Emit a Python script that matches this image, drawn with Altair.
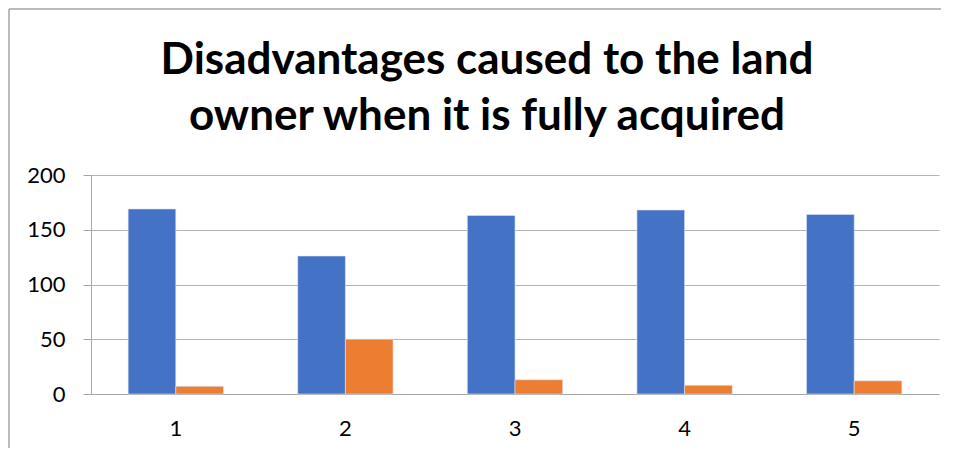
import altair as alt
import pandas as pd

categories = ["1", "2", "3", "4", "5"]
series_names = ["Series1", "Series2"]
blue_values = [169, 126, 163, 168, 164]
orange_values = [7, 50, 13, 8, 12]
y_ticks = [0, 50, 100, 150, 200]
title_lines = ["Disadvantages caused to the land", "owner when it is fully acquired"]

rows = []
for c, b, o in zip(categories, blue_values, orange_values):
    rows.append({"cat": c, "series": series_names[0], "value": b})
    rows.append({"cat": c, "series": series_names[1], "value": o})
df = pd.DataFrame(rows)

FONT = "Lato"

bars = alt.Chart(df).mark_bar(stroke="#dce6f5", strokeWidth=0.6).encode(
    x=alt.X("cat:N", sort=categories,
            scale=alt.Scale(paddingInner=0.438, paddingOuter=0.219),
            axis=alt.Axis(title=None, labelAngle=0, ticks=False, labelPadding=24,
                          labelFontSize=22, labelFont=FONT, labelColor="#000000",
                          domainColor="#a6a6a6", domainWidth=1.2, grid=False)),
    xOffset=alt.XOffset("series:N", sort=series_names,
                        scale=alt.Scale(paddingInner=0, paddingOuter=0)),
    y=alt.Y("value:Q", scale=alt.Scale(domain=[0, 200], nice=False),
            axis=alt.Axis(title=None, values=y_ticks, tickSize=8, tickColor="#a6a6a6",
                          labelPadding=18, labelFontSize=22, labelFont=FONT,
                          labelColor="#000000", domainColor="#a6a6a6",
                          gridColor="#b4b4b4", gridWidth=1.2)),
    color=alt.Color("series:N", sort=series_names,
                    scale=alt.Scale(domain=series_names, range=["#4472C4", "#ED7D31"]),
                    legend=None),
)

one = pd.DataFrame({"k": [0]})
frame_top = alt.Chart(one).mark_rule(color="#a6a6a6", strokeWidth=1.5).encode(
    x=alt.value(-82), x2=alt.value(850), y=alt.value(-166))
frame_left = alt.Chart(one).mark_rule(color="#a6a6a6", strokeWidth=1.5).encode(
    x=alt.value(-82), y=alt.value(-166), y2=alt.value(273))

title_style = dict(font=FONT, fontSize=44, fontWeight="bold", color="#000000",
                   align="center", baseline="alphabetic")
title1 = alt.Chart(one).mark_text(**title_style).encode(
    x=alt.value(396), y=alt.value(-101), text=alt.value(title_lines[0]))
title2 = alt.Chart(one).mark_text(**title_style).encode(
    x=alt.value(396), y=alt.value(-45), text=alt.value(title_lines[1]))

chart = alt.layer(bars, frame_top, frame_left, title1, title2).properties(
    width=848, height=219,
    padding=0,
).configure_view(stroke=None)

chart.save("out.html", embed_options={"renderer": "svg", "actions": False})
